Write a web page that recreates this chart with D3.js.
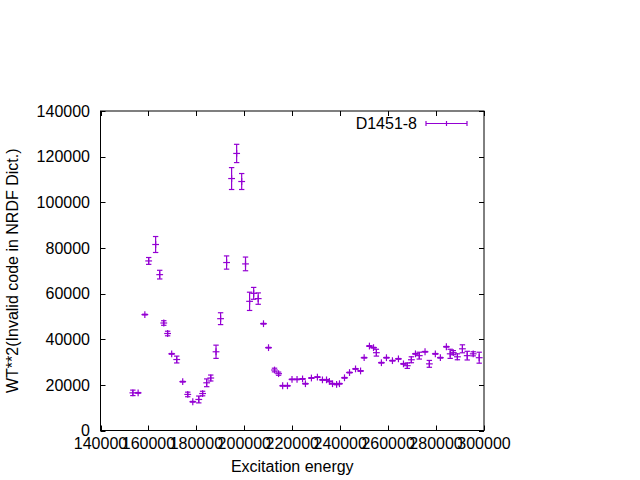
<!DOCTYPE html>
<html>
<head>
<meta charset="utf-8">
<script src="https://cdn.jsdelivr.net/npm/d3@7"></script>
<style>
body { margin: 0; background: #fff; }
svg { display: block; }
text { font-family: "Liberation Sans", Arial, sans-serif; font-size: 16px; fill: #000; }
</style>
</head>
<body>
<svg id="chart" width="640" height="480"></svg>
<script>
// Data
const energy = [153500, 155700, 158500, 160100, 163000, 164700, 166400, 168000, 169700, 171800,
  174300, 176400, 178500, 181000, 182600, 184300, 186000, 188200, 190100, 192600,
  194700, 196800, 198900, 200500, 202200, 203900, 205800, 208000, 210100, 212600,
  214300, 216000, 218000, 219900, 222000, 224300, 225500, 228000, 230500, 232600,
  234300, 235500, 236800, 238500, 239700, 241800, 243900, 246400, 248500, 250000,
  252200, 253900, 255100, 257200, 259300, 261800, 264300, 266400, 268000, 269700,
  271400, 273000, 275400, 277200, 279700, 281800, 284300, 285900, 287200, 288900,
  291000, 293000, 295500, 298000];
const wt2 = [16500, 16500, 50800, 74300, 81500, 68300, 47100, 42500, 33600, 31100,
  21400, 15800, 12600, 13600, 16200, 20900, 23000, 34500, 49000, 73600,
  110400, 121400, 109100, 73000, 56600, 60100, 57800, 46800, 36300, 26500,
  24900, 19600, 19600, 22400, 22400, 22600, 20500, 23000, 23400, 22200,
  22200, 21500, 20500, 20200, 20500, 23100, 25400, 27000, 26100, 31900,
  37000, 36300, 34100, 29700, 31900, 30600, 31400, 29200, 28400, 31000,
  33600, 32800, 34500, 29200, 33600, 31900, 36700, 33600, 34100, 32300,
  35800, 32800, 33600, 31900];
const wt2err = [1200, 150, 150, 1500, 3500, 1900, 1000, 1000, 150, 1500,
  150, 1000, 150, 1500, 1000, 1700, 1300, 2900, 2600, 2900,
  4800, 4000, 3500, 3000, 4000, 2600, 2500, 150, 150, 800,
  700, 150, 150, 150, 150, 150, 150, 150, 150, 150,
  150, 150, 150, 150, 150, 150, 150, 150, 150, 150,
  150, 150, 1500, 150, 150, 150, 150, 150, 1200, 1300,
  150, 1500, 150, 1500, 150, 150, 150, 2000, 900, 1300,
  1750, 1900, 900, 2400];
const xTicks = [140000, 160000, 180000, 200000, 220000, 240000, 260000, 280000, 300000];
const yTicks = [0, 20000, 40000, 60000, 80000, 100000, 120000, 140000];
const seriesName = "D1451-8";
const xTitle = "Excitation energy";
const yTitle = "WT**2(Invalid code in NRDF Dict.)";

const color = "#9400d3";
const L = 100.5, R = 484, T = 111, B = 430.5;
const svg = d3.select("#chart");
const x = d3.scaleLinear().domain([140000, 300000]).range([L, R]);
const y = d3.scaleLinear().domain([0, 140000]).range([B, T]);
const tl = 5;

// ticks (inward, mirrored)
const g = svg.append("g").attr("stroke", "#000").attr("stroke-width", 1);
xTicks.forEach(t => {
  const px = Math.round(x(t)) + 0.5;
  g.append("line").attr("x1", px).attr("x2", px).attr("y1", B).attr("y2", B - tl);
  g.append("line").attr("x1", px).attr("x2", px).attr("y1", T).attr("y2", T + tl);
});
yTicks.forEach(t => {
  const py = Math.round(y(t)) + 0.5;
  g.append("line").attr("x1", L).attr("x2", L + tl).attr("y1", py).attr("y2", py);
  g.append("line").attr("x1", R).attr("x2", R - tl).attr("y1", py).attr("y2", py);
});
svg.append("rect").attr("x", L).attr("y", T).attr("width", R - L).attr("height", B - T)
  .attr("fill", "none").attr("stroke", "#000").attr("stroke-width", 1);

// tick labels
svg.append("g").selectAll("text").data(xTicks).join("text")
  .attr("x", d => x(d)).attr("y", 449).attr("text-anchor", "middle").text(d => d);
svg.append("g").selectAll("text").data(yTicks).join("text")
  .attr("x", 90).attr("y", d => y(d)).attr("dy", "0.36em").attr("text-anchor", "end").text(d => d);

// axis titles
svg.append("text").attr("x", (L + R) / 2).attr("y", 472).attr("text-anchor", "middle").text(xTitle);
svg.append("text").attr("transform", `translate(18,${(T + B) / 2}) rotate(-90)`)
  .attr("text-anchor", "middle").text(yTitle);

// error bars with plus points
const data = energy.map((e, i) => ({ e, v: wt2[i], err: wt2err[i] }));
const cap = 2.7, arm = 3.4;
const pg = svg.append("g").attr("stroke", color).attr("stroke-width", 1.2).attr("fill", "none");
data.forEach(d => {
  const px = x(d.e), py = y(d.v), y0 = y(d.v - d.err), y1 = y(d.v + d.err);
  pg.append("line").attr("x1", px).attr("x2", px).attr("y1", y0).attr("y2", y1);
  pg.append("line").attr("x1", px - cap).attr("x2", px + cap).attr("y1", y0).attr("y2", y0);
  pg.append("line").attr("x1", px - cap).attr("x2", px + cap).attr("y1", y1).attr("y2", y1);
  pg.append("line").attr("x1", px - arm).attr("x2", px + arm).attr("y1", py).attr("y2", py);
  pg.append("line").attr("x1", px).attr("x2", px).attr("y1", py - arm).attr("y2", py + arm);
});

// legend
const ly = 123.5;
svg.append("text").attr("x", 417).attr("y", ly).attr("dy", "0.36em").attr("text-anchor", "end").text(seriesName);
const lg = svg.append("g").attr("stroke", color).attr("stroke-width", 1.2);
lg.append("line").attr("x1", 426).attr("x2", 467).attr("y1", ly).attr("y2", ly);
[426, 446.5, 467].forEach(px => {
  lg.append("line").attr("x1", px).attr("x2", px).attr("y1", ly - 2.5).attr("y2", ly + 2.5);
});
</script>
</body>
</html>
